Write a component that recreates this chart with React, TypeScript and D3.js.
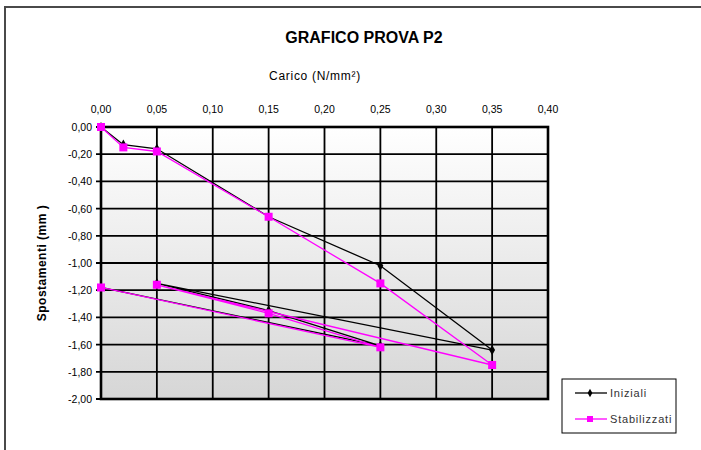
import React from 'react';
import * as d3 from 'd3';

// carico (N/mm²) e spostamenti (mm), in ordine di lettura
const carico = [0, 0.02, 0.05, 0.15, 0.25, 0.35, 0.05, 0.15, 0.25, 0];
const iniziali = [0, -0.13, -0.16, -0.66, -1.02, -1.64, -1.15, -1.35, -1.61, -1.18];
const stabilizzati = [0, -0.15, -0.18, -0.66, -1.15, -1.75, -1.16, -1.37, -1.62, -1.18];

const xTicks = [0, 0.05, 0.1, 0.15, 0.2, 0.25, 0.3, 0.35, 0.4];
const yTicks = [0, -0.2, -0.4, -0.6, -0.8, -1, -1.2, -1.4, -1.6, -1.8, -2];

const W = 701, H = 450;
const plot = { left: 101, right: 548, top: 127, bottom: 399 };
const font = "'Liberation Sans', Arial, sans-serif";

const fmt = (v: number) => d3.format('.2f')(v).replace('.', ',').replace('−', '-');

const App = () => {
    const x = d3.scaleLinear().domain([0, 0.4]).range([plot.left, plot.right]);
    const y = d3.scaleLinear().domain([-2, 0]).range([plot.bottom, plot.top]);

    const line = d3.line<[number, number]>()
        .x((d) => x(d[0]))
        .y((d) => y(d[1]));

    const ptsIni: [number, number][] = carico.map((c, i) => [c, iniziali[i]]);
    const ptsStab: [number, number][] = carico.map((c, i) => [c, stabilizzati[i]]);

    return (
        <svg width={W} height={H} style={{ position: 'absolute', left: 0, top: 0, background: '#fff' }}>
            <defs>
                <linearGradient id="bg" x1="0" y1="0" x2="0" y2="1">
                    <stop offset="0" stopColor="#ffffff" />
                    <stop offset="1" stopColor="#d6d6d6" />
                </linearGradient>
            </defs>
            {/* cornice esterna */}
            <rect x={5} y={7} width={720} height={500} fill="none" stroke="#4a4a4a" strokeWidth={2} />

            {/* titolo */}
            <text x={364} y={43} textAnchor="middle" fontFamily={font} fontWeight="bold" fontSize={16}>
                GRAFICO PROVA P2
            </text>
            <text x={315} y={80} textAnchor="middle" fontFamily={font} fontSize={12} letterSpacing={0.7}>
                Carico (N/mm²)
            </text>

            {/* area del grafico */}
            <rect x={plot.left} y={plot.top} width={plot.right - plot.left} height={plot.bottom - plot.top} fill="url(#bg)" />
            {xTicks.map((t) => (
                <line key={'gx' + t} x1={x(t)} x2={x(t)} y1={plot.top} y2={plot.bottom} stroke="#000" strokeWidth={1.8} />
            ))}
            {yTicks.map((t) => (
                <line key={'gy' + t} x1={plot.left - 5} x2={plot.right} y1={y(t)} y2={y(t)} stroke="#000" strokeWidth={1.8} />
            ))}
            <rect x={plot.left} y={plot.top} width={plot.right - plot.left} height={plot.bottom - plot.top} fill="none" stroke="#000" strokeWidth={2.6} />

            {/* etichette assi */}
            {xTicks.map((t) => (
                <text key={'lx' + t} x={x(t)} y={113} textAnchor="middle" fontFamily={font} fontSize={10.5}>
                    {fmt(t)}
                </text>
            ))}
            {yTicks.map((t) => (
                <text key={'ly' + t} x={92} y={y(t) + 4} textAnchor="end" fontFamily={font} fontSize={10.5}>
                    {fmt(t)}
                </text>
            ))}
            <text transform={`translate(46,${(plot.top + plot.bottom) / 2}) rotate(-90)`} textAnchor="middle"
                fontFamily={font} fontWeight="bold" fontSize={12} letterSpacing={0.5}>
                Spostamenti (mm )
            </text>

            {/* serie */}
            <path d={line(ptsIni) ?? ''} fill="none" stroke="#000" strokeWidth={1.3} />
            {ptsIni.map((d, i) => (
                <path key={'mi' + i} d={d3.symbol(d3.symbolDiamond, 30)() ?? ''}
                    transform={`translate(${x(d[0])},${y(d[1])})`} fill="#000" />
            ))}
            <path d={line(ptsStab) ?? ''} fill="none" stroke="#ff00ff" strokeWidth={1.3} />
            {ptsStab.map((d, i) => (
                <rect key={'ms' + i} x={x(d[0]) - 4} y={y(d[1]) - 4} width={8} height={8} fill="#ff00ff" />
            ))}

            {/* legenda */}
            <rect x={562} y={379} width={114} height={54} fill="#fff" stroke="#000" strokeWidth={1} />
            <line x1={575} x2={607} y1={393} y2={393} stroke="#000" strokeWidth={1.3} />
            <path d={d3.symbol(d3.symbolDiamond, 20)() ?? ''} transform="translate(590,393)" fill="#000" />
            <text x={610} y={397} fontFamily={font} fontSize={11} letterSpacing={0.8} fill="#333">Iniziali</text>
            <line x1={575} x2={607} y1={419} y2={419} stroke="#ff00ff" strokeWidth={1.3} />
            <rect x={587} y={416} width={6} height={6} fill="#ff00ff" />
            <text x={610} y={423} fontFamily={font} fontSize={11} letterSpacing={0.8} fill="#333">Stabilizzati</text>
        </svg>
    );
};

export default App;
